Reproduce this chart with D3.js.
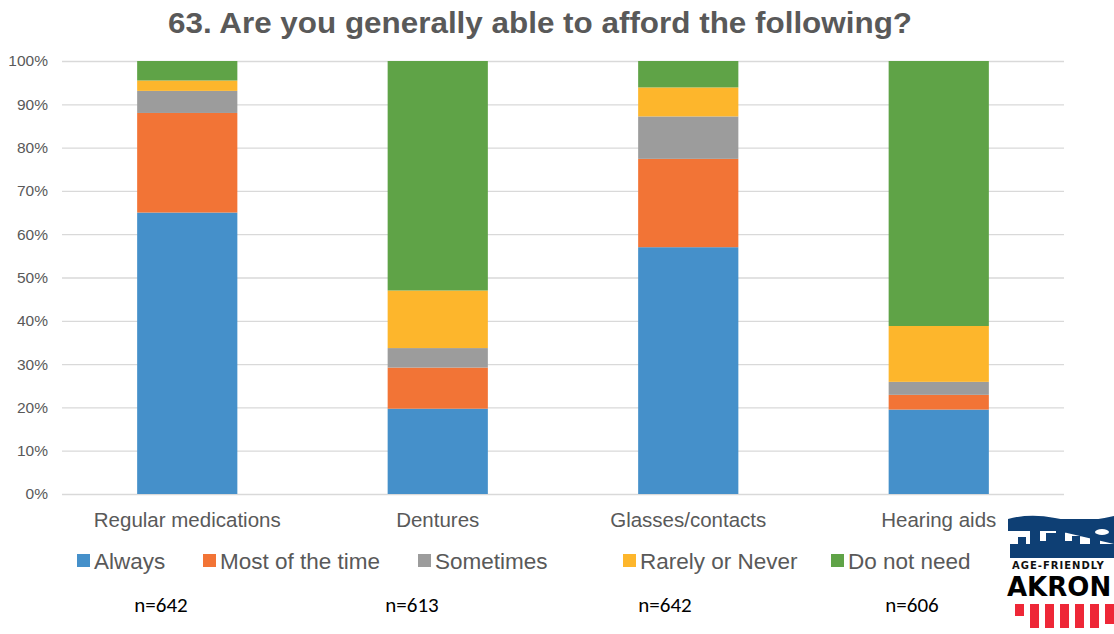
<!DOCTYPE html>
<html><head><meta charset="utf-8">
<script src="https://cdn.jsdelivr.net/npm/d3@7"></script>
<style>body{margin:0;background:#fff}svg{display:block}</style>
</head><body><svg id="c" width="1114" height="634"></svg>
<script>
const categories = ["Regular medications","Dentures","Glasses/contacts","Hearing aids"];
const seriesNames = ["Always","Most of the time","Sometimes","Rarely or Never","Do not need"];
const always      = [65.0, 19.7, 57.0, 19.5];
const mostOfTime  = [23.0,  9.5, 20.4,  3.4];
const sometimes   = [ 5.1,  4.5,  9.8,  3.0];
const rarelyNever = [ 2.4, 13.3,  6.7, 12.9];
const doNotNeed   = [ 4.5, 53.0,  6.1, 61.2];
const nLabels = ["n=642","n=613","n=642","n=606"];
const yTicks = [0,10,20,30,40,50,60,70,80,90,100];
const colors = ["#4590CA","#F27436","#9C9C9C","#FDB62C","#5FA347"];

const FONT = "Liberation Sans, Arial, Helvetica, sans-serif";
const svg = d3.select("#c");
const M = {left:62, right:1064, top:61, bottom:494};
const x = d3.scaleBand().domain(categories).range([M.left, M.right]).paddingInner(0.6).paddingOuter(0.3);
const y = d3.scaleLinear().domain([0,100]).range([M.bottom, M.top]);

// title
svg.append("text").attr("x",168).attr("y",33)
  .attr("font-family",FONT).attr("font-weight","bold")
  .attr("font-size",29).attr("fill","#595959")
  .attr("textLength",744).attr("lengthAdjust","spacingAndGlyphs")
  .text("63. Are you generally able to afford the following?");

// gridlines + y axis
const yAxis = d3.axisLeft(y).tickValues(yTicks).tickFormat(d=>d+"%").tickSize(-(M.right-M.left)).tickPadding(14);
const ga = svg.append("g").attr("transform",`translate(${M.left},0)`).call(yAxis);
ga.select(".domain").remove();
ga.selectAll(".tick line").attr("stroke","#D9D9D9").attr("stroke-width",1.3);
ga.selectAll(".tick text").attr("font-family",FONT).attr("font-size",15.5).attr("fill","#595959");

// stacked bars
const rows = categories.map((c,i)=>({cat:c, "Always":always[i], "Most of the time":mostOfTime[i], "Sometimes":sometimes[i], "Rarely or Never":rarelyNever[i], "Do not need":doNotNeed[i]}));
const stack = d3.stack().keys(seriesNames)(rows);
svg.append("g").selectAll("g").data(stack).join("g")
  .attr("fill",(d,i)=>colors[i])
  .selectAll("rect").data(d=>d).join("rect")
  .attr("x",d=>x(d.data.cat)).attr("width",x.bandwidth())
  .attr("y",d=>y(d[1])).attr("height",d=>y(d[0])-y(d[1]));

// x labels
const gx = svg.append("g").attr("transform",`translate(0,${M.bottom})`).call(d3.axisBottom(x).tickSize(0).tickPadding(18));
gx.select(".domain").remove();
gx.selectAll(".tick text").attr("font-family",FONT).attr("font-size",20.5).attr("fill","#595959");

// legend
const legX = [77, 203, 418, 623, 831];
const lg = svg.append("g");
seriesNames.forEach((s,i)=>{
  lg.append("rect").attr("x",legX[i]).attr("y",554).attr("width",13).attr("height",13).attr("fill",colors[i]);
  lg.append("text").attr("x",legX[i]+17).attr("y",569).attr("font-family",FONT)
    .attr("font-size",22.5).attr("fill","#595959").text(s);
});

// n labels
const nX = [161, 412, 665, 912];
nLabels.forEach((t,i)=>{
  svg.append("text").attr("x",nX[i]).attr("y",612).attr("text-anchor","middle")
    .attr("font-family","Carlito, Open Sans, Liberation Sans, sans-serif").attr("font-size",21).attr("fill","#000").text(t);
});

// logo (simplified)
const logo = svg.append("g");
logo.append("path").attr("fill","#0E3F74")
  .attr("d","M1008,519 Q1030,513 1055,518 Q1080,524 1114,516 L1114,558 L1010,558 L1010,544 L1018,544 L1018,537 L1026,537 L1026,544 L1030,544 L1030,529 L1040,529 L1040,541 L1046,541 L1046,533 L1056,533 L1056,525 L1065,525 L1065,541 L1072,541 L1072,536 L1080,536 L1080,544 L1090,544 L1090,534 L1100,534 L1100,544 L1114,544 Z");
logo.append("rect").attr("x",1008).attr("y",519).attr("width",106).attr("height",12).attr("fill","#0E3F74");
logo.append("ellipse").attr("cx",1102).attr("cy",532).attr("rx",7).attr("ry",3).attr("fill","#fff");
logo.append("text").attr("x",1012).attr("y",569).attr("font-family","DejaVu Sans, sans-serif").attr("font-weight","bold")
  .attr("font-size",10).attr("fill","#111").attr("letter-spacing",1).text("AGE-FRIENDLY");
logo.append("text").attr("x",1007).attr("y",596).attr("font-family","DejaVu Sans, sans-serif").attr("font-weight","bold")
  .attr("font-size",26).attr("fill","#000").text("AKRON");
[1015,1030,1045,1060,1075,1090,1105].forEach((sx,i)=>{
  logo.append("rect").attr("x",sx).attr("y",604).attr("width",9).attr("height", i==0?12:(i==6?20:24)).attr("fill","#EE2737");
});
</script></body></html>
